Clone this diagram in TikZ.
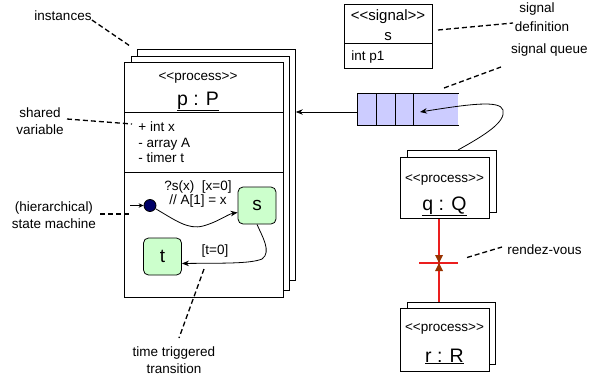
\documentclass[tikz,border=0pt]{standalone}
\usepackage{fontspec}
\setmainfont{Liberation Sans}
\usetikzlibrary{arrows.meta,positioning}

\definecolor{qfill}{RGB}{204,204,255}
\definecolor{sfill}{RGB}{204,255,204}
\definecolor{initdot}{RGB}{0,0,102}
\definecolor{rvred}{RGB}{235,30,30}
\definecolor{rvbrown}{RGB}{153,51,0}
\newcommand{\stereo}[1]{<{}<#1>{}>}

\tikzset{
  frame/.style={draw, fill=white, inner sep=0pt, anchor=north west},
  lead/.style={line width=1.3pt, dash pattern=on 5pt off 3pt},
  state/.style={draw, fill=sfill, rounded corners=5pt, inner sep=0pt,
    minimum width=38pt, minimum height=37pt, font=\fontsize{19}{21}\selectfont},
  trans/.style={-{Stealth[length=7pt,width=5.5pt]}},
  rdv/.style={draw=rvred, line width=1.2pt},
  txt/.style={inner sep=0pt, anchor=base},
  big/.style={inner sep=0pt, anchor=base, font=\fontsize{19.5}{22}\selectfont}
}

\begin{document}
\begin{tikzpicture}[x=1pt,y=-1pt,line width=0.8pt,font=\fontsize{13.5}{16}\selectfont]
\useasboundingbox (0,0) rectangle (589,375);

% process p with its instances
\node[frame, minimum width=158pt, minimum height=231pt] (pb) at (137,49) {};
\node[frame, minimum width=158pt, minimum height=234pt] (pm) at (131,56) {};
\node[frame, minimum width=159pt, minimum height=235pt] (p) at (124,62) {};
\draw (124,112) -- (283,112);
\draw (124,172) -- (283,172);
\node[txt] (pst) at (198,80) {\stereo{process}};
\node[big] (pname) at (198,105) {\underline{p : P}};
\foreach \y/\attr in {131/+ int x, 147/- array A, 162/- timer t}
  \node[txt, anchor=base west] (attr\y) at (138,\y) {\attr};

% state machine
\node[circle, draw, fill=initdot, inner sep=0pt, minimum size=12pt] (init) at (150,205.5) {};
\coordinate (initin) at (130,205.5);
\draw[-{Stealth[length=5pt,width=4.5pt]}] (initin) -- (init);
\node[state] (s) at (257,205.5) {s};
\node[state] (t) at (162.5,256.5) {t};
\draw[trans] (init) .. controls (175,220) and (188,230) .. (203,226)
  .. controls (218,222) and (228,214) .. ([yshift=-7pt]s.west);
\draw[trans] (s.south) .. controls (262,236) and (272,252) .. (262,259)
  .. controls (250,264) and (220,263) .. ([yshift=-7pt]t.east);
\node[txt] (guard1) at (198,190) {?s(x)\ \ [x=0]};
\node[txt] (guard2) at (198,204) {// A[1] = x};
\node[txt] (tguard) at (215,254) {[t=0]};

% signal definition
\node[draw, inner sep=0pt, anchor=north west, minimum width=88pt, minimum height=64pt] (sig) at (344,4) {};
\draw (344,43) -- (432,43);
\node[txt, font=\fontsize{15}{17}\selectfont] (sigst) at (388,20) {\stereo{signal}};
\node[txt, font=\fontsize{15}{17}\selectfont] (signame) at (388,40) {s};
\node[txt, anchor=base west] (sigattr) at (351,60) {int p1};

% signal queue
\node[fill=qfill, inner sep=0pt, anchor=north west, minimum width=101pt, minimum height=32pt] (queue) at (357,93) {};
\draw (queue.north east) -- (queue.north west) -- (queue.south west) -- (queue.south east);
\foreach \x in {376,395,413}
  \draw (\x,93) -- (\x,125);
\coordinate (qout) at (357,112);
\draw[trans] (qout) -- (qout -| pb.east);

% process q
\node[frame, minimum width=89pt, minimum height=62pt] (qb) at (407,150) {};
\node[frame, minimum width=89pt, minimum height=61pt] (q) at (400,157) {};
\node[txt] (qst) at (444.5,182) {\stereo{process}};
\node[big] (qname) at (444.5,210) {\underline{q : Q}};
\coordinate (qstart) at (458,150);
\coordinate (qin) at (420,112);
\draw[trans] (qstart) .. controls (485,135) and (506,122) .. (503,110)
  .. controls (500,100) and (470,104) .. (qin);

% process r
\node[frame, minimum width=88pt, minimum height=62pt] (rb) at (407,302) {};
\node[frame, minimum width=89pt, minimum height=63pt] (r) at (400,308) {};
\node[txt] (rst) at (444.5,331) {\stereo{process}};
\node[big] (rname) at (444.5,362) {\underline{r : R}};

% rendez-vous
\coordinate (rv) at (439,263);
\draw[rdv] (rv |- q.south) -- (rv |- rb.north);
\draw[rdv] ([xshift=-20pt]rv) -- ([xshift=19pt]rv);
\fill[rvbrown] ([shift={(-4pt,8pt)}]rv) -- ([shift={(4pt,8pt)}]rv) -- (rv) -- cycle;
\fill[rvbrown] ([shift={(-4pt,-8pt)}]rv) -- ([shift={(4pt,-8pt)}]rv) -- (rv) -- cycle;

% labels and leaders
\node[txt] (inst) at (63,20) {instances};
\coordinate (instpt) at (130,46);
\draw[lead] (inst.base east) -- (instpt);

\node[txt] (shared) at (40,117) {shared};
\node[txt] (variable) at (40,134) {variable};
\coordinate (sharedA) at (67,119);
\coordinate (sharedB) at (132,124);
\draw[lead] (sharedA) -- (sharedB);

\node[txt] (hier) at (54,211) {(hierarchical)};
\node[txt] (sm) at (54,228) {state machine};
\coordinate (hierA) at (100,214);
\coordinate (hierB) at (129,214);
\draw[lead] (hierA) -- (hierB);

\node[txt] (ttt) at (174,356) {time triggered};
\node[txt] (ttr) at (174,373) {transition};
\coordinate (tttA) at (204,269);
\coordinate (tttB) at (179,338);
\draw[lead] (tttA) -- (tttB);

\node[txt] (sigdef1) at (537,12) {signal};
\node[txt] (sigdef2) at (542,31) {definition};
\coordinate (sigdefA) at (438,30);
\coordinate (sigdefB) at (513,23);
\draw[lead] (sigdefA) -- (sigdefB);

\node[txt, anchor=base east] (sigq) at (588,53) {signal queue};
\coordinate (sigqA) at (444,88);
\coordinate (sigqB) at (501,67);
\draw[lead] (sigqA) -- (sigqB);

\node[txt, anchor=base west] (rvlab) at (507,254) {rendez-vous};
\coordinate (rvA) at (467,257.5);
\coordinate (rvB) at (502,247);
\draw[lead] (rvA) -- (rvB);
\end{tikzpicture}
\end{document}
